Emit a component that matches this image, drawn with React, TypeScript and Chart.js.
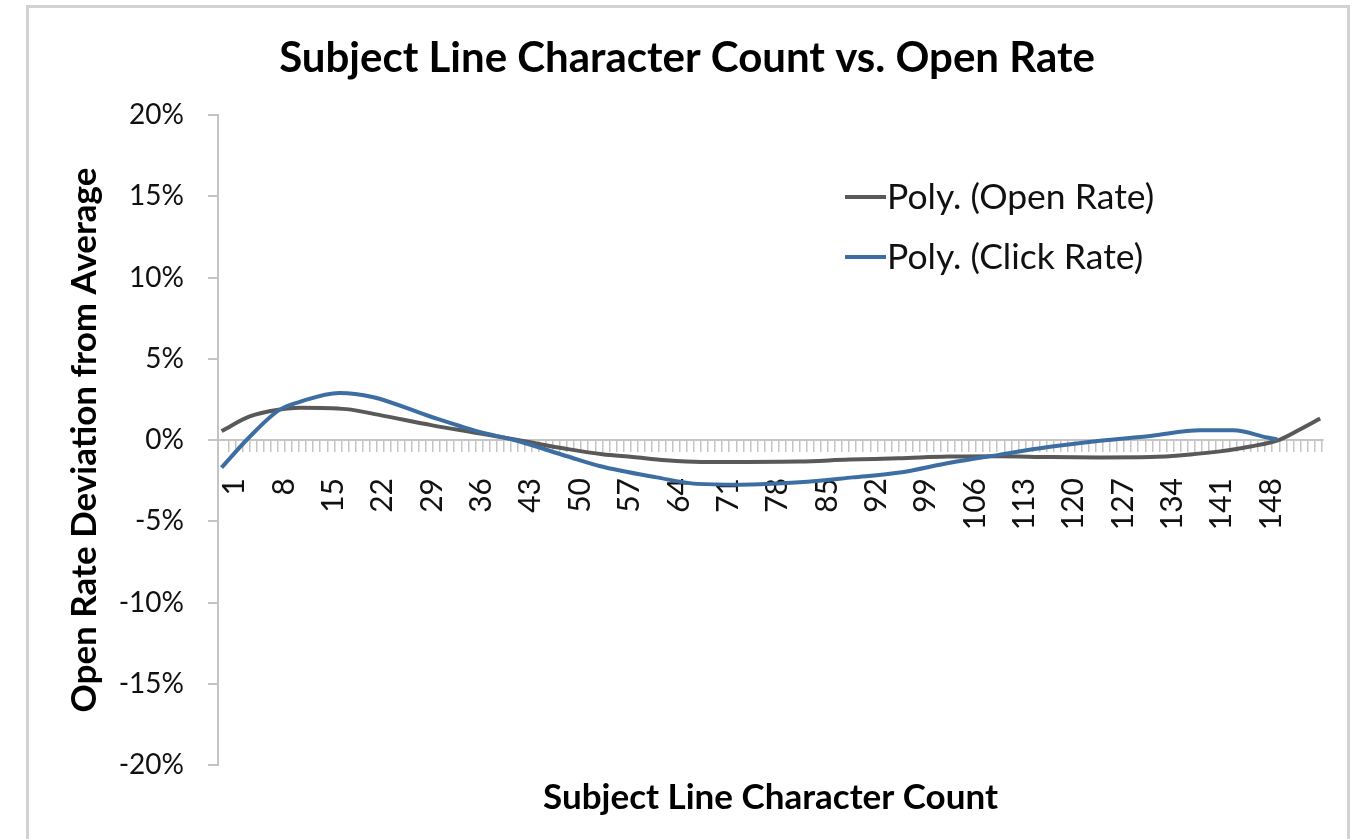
import React, { useEffect, useRef } from "react";
import { Chart, registerables } from "chart.js";

Chart.register(...registerables);

// ---- text ----
const chartTitle = "Subject Line Character Count vs. Open Rate";
const xAxisTitle = "Subject Line Character Count";
const yAxisTitle = "Open Rate Deviation from Average";
const seriesNames = ["Poly. (Open Rate)", "Poly. (Click Rate)"];

// ---- axes ----
const categoryCount = 156; // tick marks for character counts 1..156
const xTickLabels = [1, 8, 15, 22, 29, 36, 43, 50, 57, 64, 71, 78, 85, 92, 99, 106, 113, 120, 127, 134, 141, 148];
const yMin = -20;
const yMax = 20;
const yStep = 5;

// ---- series (percent deviation from average) ----
const openRateX = [0, 4, 8.2, 11.1, 17.7, 22.8, 29.9, 36, 42, 49, 54, 58.3, 63, 68, 82, 89, 96, 103, 110, 117.5, 124.6, 131.7, 137.4, 141.6, 145.9, 150.1, 152.9, 155.8];
const openRateY = [0.55, 1.45, 1.87, 1.99, 1.9, 1.5, 0.9, 0.45, 0.0, -0.55, -0.88, -1.05, -1.25, -1.35, -1.32, -1.2, -1.13, -1.02, -1.0, -1.05, -1.07, -1.05, -0.89, -0.7, -0.4, 0.03, 0.64, 1.32];

const clickRateX = [0, 4, 8.2, 11.1, 16.7, 21.4, 29.9, 37, 41.5, 49, 53.6, 61.7, 67.4, 73.5, 82, 89.5, 96.2, 103.3, 110.4, 117, 124.6, 131.7, 138.8, 143.5, 148.3, 149.7];
const clickRateY = [-1.7, 0.2, 1.85, 2.35, 2.9, 2.65, 1.4, 0.45, 0.0, -1.0, -1.6, -2.3, -2.7, -2.75, -2.6, -2.3, -2.0, -1.4, -0.9, -0.45, -0.05, 0.25, 0.6, 0.6, 0.15, 0.05];

const openColor = "#595959";
const clickColor = "#3d6ea3";
const axisColor = "#c4c4c4";
const FONT = "Lato";

const insideLegendAndXTitle = {
  id: "insideLegendAndXTitle",
  afterDraw(chart: any) {
    const ctx = chart.ctx as CanvasRenderingContext2D;
    const area = chart.chartArea;
    const x0 = 845;
    const y0 = 197;
    const gap = 60;
    ctx.save();
    chart.data.datasets.forEach((ds: any, i: number) => {
      const y = y0 + i * gap;
      ctx.strokeStyle = ds.borderColor;
      ctx.lineWidth = 4;
      ctx.lineCap = "butt";
      ctx.beginPath();
      ctx.moveTo(x0, y);
      ctx.lineTo(x0 + 41, y);
      ctx.stroke();
      ctx.fillStyle = "#111";
      ctx.font = `35.5px ${FONT}`;
      ctx.textBaseline = "middle";
      ctx.textAlign = "left";
      ctx.fillText(ds.label, x0 + 42, y + 1);
    });
    // x-axis title, centred under the plot area
    ctx.fillStyle = "#000";
    ctx.font = `bold 35px ${FONT}`;
    ctx.textAlign = "center";
    ctx.textBaseline = "middle";
    ctx.fillText(xAxisTitle, (area.left + area.right) / 2, area.bottom + 33);
    ctx.restore();
  },
};

export default function App() {
  const ref = useRef<HTMLCanvasElement | null>(null);

  useEffect(() => {
    if (!ref.current) return;
    const chart = new Chart(ref.current, {
      type: "line",
      data: {
        datasets: [
          {
            label: seriesNames[0],
            data: openRateX.map((x, i) => ({ x, y: openRateY[i] })),
            borderColor: openColor,
            backgroundColor: openColor,
            borderWidth: 4,
            pointRadius: 0,
            cubicInterpolationMode: "monotone",
            fill: false,
            order: 2,
          },
          {
            label: seriesNames[1],
            data: clickRateX.map((x, i) => ({ x, y: clickRateY[i] })),
            borderColor: clickColor,
            backgroundColor: clickColor,
            borderWidth: 4,
            pointRadius: 0,
            cubicInterpolationMode: "monotone",
            fill: false,
            order: 1,
          },
        ],
      },
      options: {
        animation: false,
        responsive: false,
        devicePixelRatio: 1,
        layout: { padding: { left: 51, right: 36, top: 0, bottom: 74 } },
        plugins: {
          legend: { display: false },
          tooltip: { enabled: false },
          title: {
            display: true,
            text: chartTitle,
            color: "#000",
            font: { family: FONT, size: 42, weight: "bold" },
            padding: { top: 33, bottom: 31.6 },
          },
        },
        scales: {
          x: {
            type: "linear",
            position: { y: 0 },
            min: -0.5,
            max: 156.2,
            afterBuildTicks: (scale: any) => {
              const t = [];
              for (let v = 1; v <= categoryCount; v++) t.push({ value: v });
              scale.ticks = t;
            },
            afterFit: (scale: any) => {
              scale.paddingLeft = 0;
              scale.paddingRight = 0;
            },
            ticks: {
              autoSkip: false,
              minRotation: 90,
              maxRotation: 90,
              padding: 27,
              labelOffset: 6,
              color: "#111",
              font: { family: FONT, size: 30 },
              callback: (v: any) => (xTickLabels.includes(v) ? String(v) : ""),
            },
            grid: {
              drawOnChartArea: false,
              drawTicks: true,
              tickLength: 11,
              color: axisColor,
              lineWidth: 1.5,
            },
            border: { color: axisColor, width: 2 },
          },
          y: {
            type: "linear",
            min: yMin,
            max: yMax,
            afterFit: (scale: any) => {
              scale.width = 167;
            },
            ticks: {
              stepSize: yStep,
              padding: 24,
              color: "#111",
              font: { family: FONT, size: 28 },
              callback: (v: any) => `${v}%`,
            },
            grid: {
              drawOnChartArea: false,
              drawTicks: true,
              tickLength: 10,
              color: axisColor,
              lineWidth: 2,
            },
            border: { color: axisColor, width: 2 },
            title: {
              display: true,
              text: yAxisTitle,
              color: "#000",
              font: { family: FONT, size: 35, weight: "bold" },
              padding: { top: 13, bottom: 0 },
            },
          },
        },
      },
      plugins: [insideLegendAndXTitle],
    });
    return () => chart.destroy();
  }, []);

  return (
    <div
      style={{
        position: "fixed",
        left: 0,
        top: 0,
        width: 1359,
        height: 839,
        overflow: "hidden",
        background: "#fff",
      }}
    >
      <div
        style={{
          position: "absolute",
          left: 26,
          top: 5,
          width: 1324,
          height: 900,
          boxSizing: "border-box",
          border: "3px solid #d2d2d2",
        }}
      />
      <canvas
        ref={ref}
        width={1359}
        height={839}
        style={{ position: "absolute", left: 0, top: 0, display: "block" }}
      />
    </div>
  );
}
